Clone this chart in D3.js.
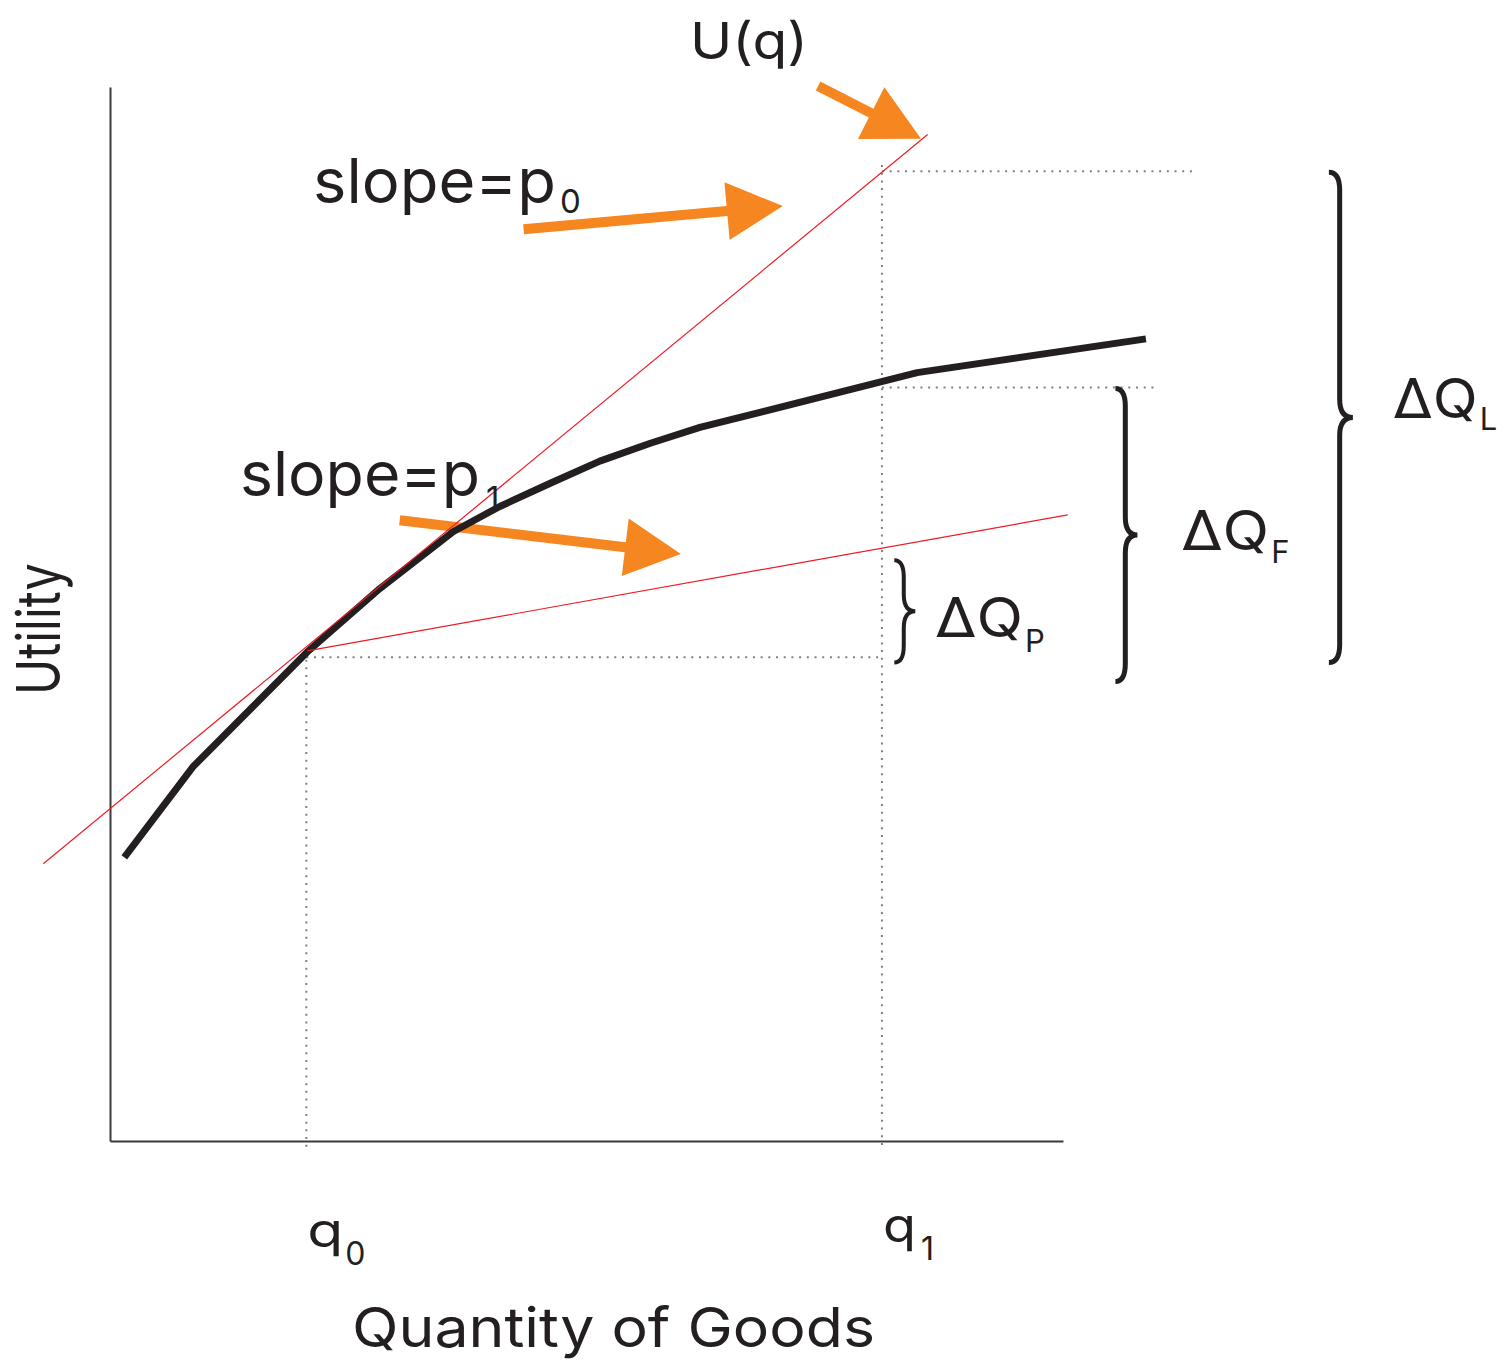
<!DOCTYPE html>
<html><head><meta charset="utf-8">
<script src="https://cdn.jsdelivr.net/npm/d3@7"></script>
<style>html,body{margin:0;padding:0;background:#fff;} svg{display:block;}</style>
</head><body>
<div id="chart"></div>
<script>
// ---------- DATA (chart units: quantity 0..10 on axis, utility 0..10 on axis) ----------
const utilityQ = [0.15, 0.87, 2.07, 2.83, 3.60, 4.09, 4.62, 5.14, 5.67, 6.19, 8.47, 10.87];
const utilityU = [2.69, 3.55, 4.64, 5.24, 5.78, 6.02, 6.24, 6.45, 6.62, 6.77, 7.29, 7.61];

const tangentP0Q = [-0.70, 8.58];
const tangentP0U = [2.63, 9.55];
const tangentP1Q = [2.07, 10.05];
const tangentP1U = [4.65, 5.94];

const quantityTicks = [2.06, 8.10];
const quantityTickLabels = ["q", "q"];
const quantityTickSubs = ["0", "1"];

// guide (dotted) lines: [q1, u1, q2, u2]
const guideQ1 = [2.06, 8.10, 2.06, 8.10, 8.10];
const guideU1 = [4.64, 9.26, 4.59, 9.20, 7.15];
const guideQ2 = [2.06, 8.10, 8.10, 11.41, 11.00];
const guideU2 = [-0.07, -0.07, 4.59, 9.20, 7.15];

// braces for the changes in quantity
const braceNames = ["P", "F", "L"];
const braceQ = [8.23, 10.55, 12.79];
const braceTopU = [5.51, 7.14, 9.19];
const braceBottomU = [4.54, 4.36, 4.54];

// arrows (start -> tip)
const arrowStartQ = [7.43, 4.34, 3.04];
const arrowStartU = [10.01, 8.65, 5.89];
const arrowTipQ = [8.51, 7.06, 5.99];
const arrowTipU = [9.51, 8.87, 5.57];

// ---------- LAYOUT ----------
const W = 1507, H = 1363;
const svg = d3.select("#chart").append("svg").attr("width", W).attr("height", H).style("background", "#fff");
const x = d3.scaleLinear().domain([0, 10]).range([110, 1063]);
const y = d3.scaleLinear().domain([0, 10]).range([1141, 87]);
const FONT = "Inter, 'Open Sans', 'DejaVu Sans', sans-serif";
const INK = "#231F20", RED = "#ED1C24", ORANGE = "#F6861F";

// dotted guides
svg.append("g").selectAll("line").data(guideQ1.map((d, i) => i)).join("line")
  .attr("x1", i => x(guideQ1[i])).attr("y1", i => y(guideU1[i]))
  .attr("x2", i => x(guideQ2[i])).attr("y2", i => y(guideU2[i]))
  .attr("stroke", "#808080").attr("stroke-width", 2).attr("stroke-dasharray", "2,5.7");

// axes
const gx = svg.append("g").attr("transform", `translate(0,${y(0)})`)
  .call(d3.axisBottom(x).tickValues([]).tickSizeOuter(0));
const gy = svg.append("g").attr("transform", `translate(${x(0)},0)`)
  .call(d3.axisLeft(y).tickValues([]).tickSizeOuter(0));
[gx, gy].forEach(g => g.select(".domain").attr("stroke", "#3a3a3a").attr("stroke-width", 2));

// arrows
function arrowPath(x0, y0, x1, y1, shaft, headL, headW) {
  const dx = x1 - x0, dy = y1 - y0, L = Math.hypot(dx, dy);
  const ux = dx / L, uy = dy / L, nx = -uy, ny = ux;
  const bx = x1 - ux * headL, by = y1 - uy * headL;
  const p = [
    [x0 + nx * shaft / 2, y0 + ny * shaft / 2],
    [bx + nx * shaft / 2, by + ny * shaft / 2],
    [bx + nx * headW / 2, by + ny * headW / 2],
    [x1, y1],
    [bx - nx * headW / 2, by - ny * headW / 2],
    [bx - nx * shaft / 2, by - ny * shaft / 2],
    [x0 - nx * shaft / 2, y0 - ny * shaft / 2]
  ];
  return "M" + p.map(d => d.join(",")).join("L") + "Z";
}
svg.append("g").selectAll("path").data(arrowStartQ.map((d, i) => i)).join("path")
  .attr("d", i => arrowPath(x(arrowStartQ[i]), y(arrowStartU[i]), x(arrowTipQ[i]), y(arrowTipU[i]), 10, 56, 58))
  .attr("fill", ORANGE);

// utility curve
const line = d3.line().x(d => x(d[0])).y(d => y(d[1])).curve(d3.curveLinear);
svg.append("path").datum(utilityQ.map((q, i) => [q, utilityU[i]]))
  .attr("d", line).attr("fill", "none").attr("stroke", INK).attr("stroke-width", 7)
  .attr("stroke-linejoin", "round");

// tangent lines
[[tangentP0Q, tangentP0U], [tangentP1Q, tangentP1U]].forEach(([tq, tu]) => {
  svg.append("line").attr("x1", x(tq[0])).attr("y1", y(tu[0])).attr("x2", x(tq[1])).attr("y2", y(tu[1]))
    .attr("stroke", RED).attr("stroke-width", 1.2);
});

// braces
function bracePath(xl, yt, yb, w) {
  const xs = xl + w * 0.45, xt = xl + w, ym = (yt + yb) / 2, r = Math.min(18, (yb - yt) / 6);
  return `M${xl},${yt} Q${xs},${yt} ${xs},${yt + r} L${xs},${ym - r} Q${xs},${ym} ${xt},${ym}` +
         ` Q${xs},${ym} ${xs},${ym + r} L${xs},${yb - r} Q${xs},${yb} ${xl},${yb}`;
}
const braceW = [21, 22, 24], braceSW = [4, 5, 5];
svg.append("g").selectAll("path").data(braceNames.map((d, i) => i)).join("path")
  .attr("d", i => bracePath(x(braceQ[i]), y(braceTopU[i]), y(braceBottomU[i]), braceW[i]))
  .attr("fill", "none").attr("stroke", INK).attr("stroke-width", i => braceSW[i]);

// ---------- TEXT ----------
function label(xp, yp, txt, size, width, sub, subDx, subDy, subSize) {
  svg.append("text").attr("x", xp).attr("y", yp).text(txt)
    .attr("font-family", FONT).attr("font-size", size).attr("fill", INK)
    .attr("textLength", width).attr("lengthAdjust", "spacingAndGlyphs");
  if (sub) {
    svg.append("text").attr("x", xp + width + subDx).attr("y", yp + subDy).text(sub)
      .attr("font-family", FONT).attr("font-size", subSize).attr("fill", INK);
  }
}
label(x(6.086), y(10.266), "U(q)", 51, 118);
label(x(2.130), y(8.899), "slope=p", 62, 243, "0", 4, 10, 33);
label(x(1.364), y(6.120), "slope=p", 62, 240, "1", 6, 14, 33);

// delta Q labels
const dqQ = [8.657, 11.24, 13.46], dqU = [4.782, 5.607, 6.860], dqW = [88, 88, 85], dqSubDy = [15, 13, 12];
braceNames.forEach((n, i) => label(x(dqQ[i]), y(dqU[i]), "\u0394Q", 55, dqW[i], n, 2, dqSubDy[i], 31));

// q tick labels
const qW = [36, 33], qBase = [-1.006, -0.958], qSubDx = [2, 5];
quantityTicks.forEach((t, i) =>
  label(x(t) + 1, y(qBase[i]), quantityTickLabels[i], 48, qW[i], quantityTickSubs[i], qSubDx[i], 18, 32));

// axis titles
svg.append("text").attr("x", 352).attr("y", y(-1.954)).text("Quantity of Goods")
  .attr("font-family", FONT).attr("font-size", 55).attr("fill", INK)
  .attr("textLength", 523).attr("lengthAdjust", "spacingAndGlyphs");
svg.append("text").attr("transform", `translate(${x(-0.525)},${y(4.858) + 66}) rotate(-90)`).text("Utility")
  .attr("font-family", FONT).attr("font-size", 60).attr("fill", INK)
  .attr("textLength", 132).attr("lengthAdjust", "spacingAndGlyphs");
</script>
</body></html>
